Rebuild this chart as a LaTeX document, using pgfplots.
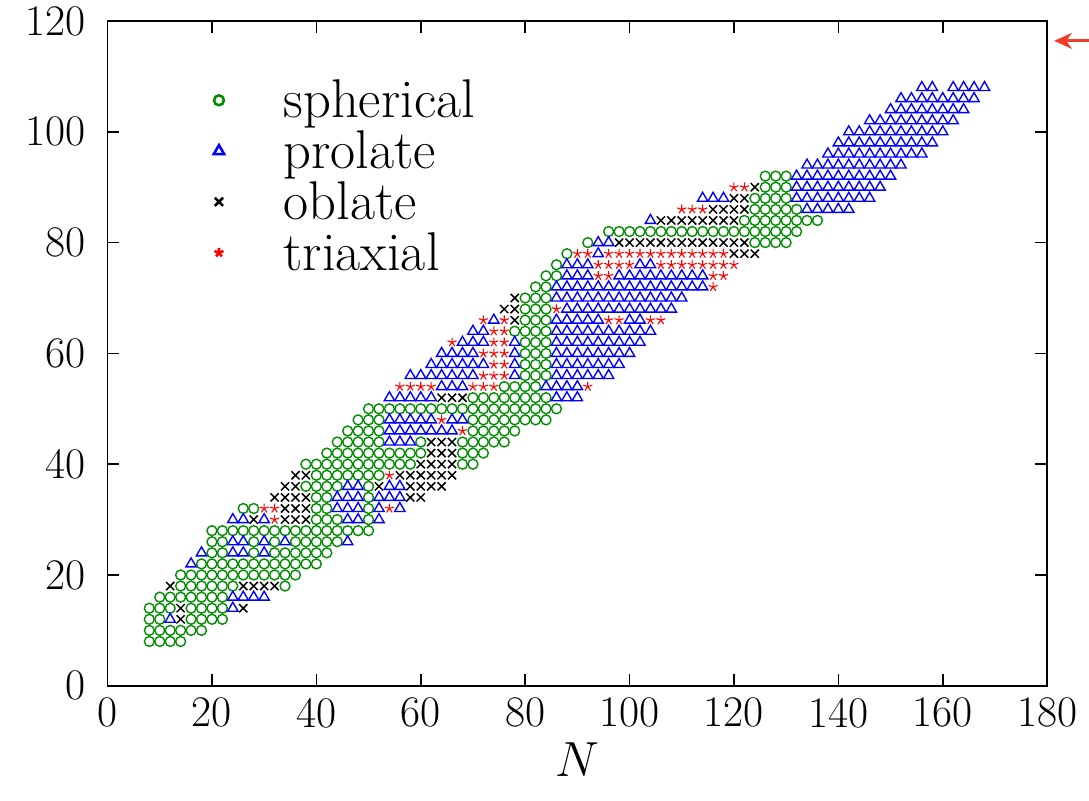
\documentclass[border=0pt]{standalone}
\usepackage{pgfplots}
\pgfplotsset{compat=1.18}
\usetikzlibrary{arrows.meta}
\definecolor{sphgreen}{RGB}{0,140,0}
\definecolor{arrowred}{RGB}{240,60,40}
\begin{document}
\begin{tikzpicture}
\begin{axis}[
  scale only axis,
  width=473.5pt, height=335pt,
  xmin=0, xmax=180, ymin=0, ymax=120,
  xtick={0,20,...,180}, ytick={0,20,...,120},
  /pgf/number format/assume math mode=true,
  tick align=inside,
  major tick length=6pt,
  axis line style={line width=0.9pt},
  every tick/.style={line width=0.8pt, black},
  tick label style={font=\fontsize{22}{26}\selectfont, inner sep=1pt},
  yticklabel style={xshift=-10pt},
  xticklabel style={yshift=-5pt},
  xlabel={$N$},
  xlabel style={font=\fontsize{25}{30}\selectfont, yshift=-3pt},
  legend style={at={(rel axis cs:0.093,0.924)}, anchor=north west, draw=none, fill=none,
    font=\fontsize{27.5}{32}\selectfont, row sep=1pt},
  legend cell align=left,
  legend image code/.code={\draw[#1,line width=1.3pt] plot coordinates {(0.3cm,0cm)};\path (0cm,0cm) (1.36cm,0cm);},
]
% spherical
\addplot[only marks, mark=o, mark size=2.5pt, sphgreen, line width=0.7pt] coordinates {
(8,8) (10,8) (12,8) (14,8)
(8,10) (10,10) (12,10) (14,10) (16,10) (18,10)
(8,12) (10,12) (16,12) (18,12) (20,12) (22,12)
(8,14) (10,14) (12,14) (16,14) (18,14) (20,14) (22,14)
(10,16) (12,16) (14,16) (16,16) (18,16) (20,16) (22,16)
(14,18) (16,18) (18,18) (20,18) (22,18) (24,18) (34,18)
(14,20) (16,20) (18,20) (20,20) (22,20) (24,20) (26,20) (28,20) (30,20) (32,20) (34,20) (36,20)
(18,22) (20,22) (22,22) (24,22) (26,22) (28,22) (30,22) (32,22) (34,22) (36,22) (38,22) (40,22)
(20,24) (22,24) (28,24) (32,24) (34,24) (36,24) (38,24) (40,24) (42,24)
(20,26) (22,26) (28,26) (32,26) (36,26) (38,26) (40,26) (42,26) (44,26)
(20,28) (22,28) (24,28) (26,28) (28,28) (30,28) (32,28) (34,28) (36,28) (38,28) (40,28) (42,28) (44,28) (46,28) (48,28) (50,28)
(40,30) (42,30) (44,30) (50,30)
(26,32) (28,32) (40,32) (42,32) (50,32)
(40,34) (42,34) (50,34)
(38,36) (40,36) (42,36) (44,36) (50,36)
(40,38) (42,38) (44,38) (46,38) (48,38) (50,38) (52,38)
(38,40) (40,40) (42,40) (44,40) (46,40) (48,40) (50,40) (52,40) (54,40) (56,40) (58,40) (68,40) (70,40)
(42,42) (44,42) (46,42) (48,42) (50,42) (52,42) (54,42) (56,42) (58,42) (60,42) (68,42) (70,42) (72,42)
(44,44) (46,44) (48,44) (50,44) (52,44) (60,44) (68,44) (70,44) (72,44) (74,44) (76,44)
(46,46) (48,46) (50,46) (52,46) (70,46) (72,46) (74,46) (76,46) (78,46)
(48,48) (50,48) (52,48) (70,48) (72,48) (74,48) (76,48) (78,48) (80,48) (82,48) (84,48)
(50,50) (52,50) (54,50) (56,50) (58,50) (60,50) (62,50) (64,50) (66,50) (68,50) (70,50) (72,50) (74,50) (76,50) (78,50) (80,50) (82,50) (84,50) (86,50)
(70,52) (72,52) (74,52) (76,52) (78,52) (80,52) (82,52) (84,52)
(76,54) (78,54) (80,54) (82,54)
(80,56) (82,56) (84,56)
(80,58) (82,58) (84,58)
(80,60) (82,60) (84,60)
(80,62) (82,62) (84,62)
(78,64) (80,64) (82,64) (84,64)
(80,66) (82,66) (84,66)
(80,68) (82,68) (84,68)
(80,70) (82,70) (84,70)
(82,72) (84,72)
(84,74) (86,74)
(86,76)
(88,78)
(92,80) (124,80) (126,80) (128,80) (130,80)
(96,82) (98,82) (100,82) (102,82) (104,82) (106,82) (108,82) (110,82) (112,82) (114,82) (116,82) (118,82) (120,82) (122,82) (124,82) (126,82) (128,82) (130,82) (132,82)
(122,84) (124,84) (126,84) (128,84) (130,84) (132,84) (134,84) (136,84)
(124,86) (126,86) (128,86) (130,86) (132,86)
(124,88) (126,88) (128,88) (130,88)
(126,90) (128,90) (130,90)
(126,92) (128,92) (130,92)
};
\addlegendentry{spherical}
% prolate
\addplot[only marks, mark=triangle, mark size=3.0pt, blue, line width=0.7pt] coordinates {
(12,12)
(24,14)
(24,16) (26,16) (28,16) (30,16)
(16,22)
(18,24) (24,24) (26,24) (30,24)
(24,26) (26,26) (30,26) (34,26) (46,26)
(24,30) (26,30) (30,30) (46,30) (48,30) (52,30)
(44,32) (46,32) (48,32) (52,32) (56,32)
(44,34) (46,34) (48,34) (52,34) (54,34) (56,34)
(46,36) (48,36) (54,36) (56,36)
(54,44) (56,44) (58,44)
(54,46) (56,46) (58,46) (60,46) (62,46) (64,46) (66,46)
(54,48) (56,48) (58,48) (60,48) (62,48) (66,48) (68,48)
(54,52) (56,52) (58,52) (60,52) (62,52) (86,52) (88,52) (90,52)
(64,54) (66,54) (68,54) (84,54) (86,54) (88,54) (90,54)
(58,56) (60,56) (62,56) (64,56) (66,56) (68,56) (70,56) (78,56) (86,56) (88,56) (90,56) (92,56) (94,56) (96,56)
(62,58) (64,58) (66,58) (68,58) (70,58) (72,58) (78,58) (86,58) (88,58) (90,58) (92,58) (94,58) (96,58) (98,58)
(64,60) (66,60) (68,60) (70,60) (78,60) (86,60) (88,60) (90,60) (92,60) (94,60) (96,60) (98,60) (100,60)
(68,62) (70,62) (72,62) (78,62) (86,62) (88,62) (90,62) (92,62) (94,62) (96,62) (98,62) (100,62) (102,62)
(70,64) (72,64) (86,64) (88,64) (90,64) (92,64) (94,64) (96,64) (98,64) (100,64) (102,64) (104,64)
(74,66) (86,66) (88,66) (90,66) (92,66) (94,66) (100,66) (102,66)
(88,68) (90,68) (92,68) (94,68) (96,68) (98,68) (100,68) (102,68) (104,68) (106,68) (108,68)
(86,70) (88,70) (90,70) (92,70) (94,70) (96,70) (98,70) (100,70) (102,70) (104,70) (106,70) (108,70) (110,70)
(86,72) (88,72) (90,72) (92,72) (94,72) (96,72) (98,72) (100,72) (102,72) (104,72) (106,72) (108,72) (110,72) (112,72) (114,72)
(88,74) (90,74) (92,74) (98,74) (100,74) (102,74) (104,74) (106,74) (108,74) (110,74) (112,74) (114,74)
(88,76) (90,76) (92,76) (102,76) (104,76)
(94,78)
(94,80) (96,80)
(104,84)
(134,86) (136,86) (138,86) (140,86) (142,86)
(114,88) (116,88) (118,88) (132,88) (134,88) (136,88) (138,88) (140,88) (142,88) (144,88) (146,88)
(132,90) (134,90) (136,90) (138,90) (140,90) (142,90) (144,90) (146,90) (148,90)
(132,92) (134,92) (136,92) (138,92) (140,92) (142,92) (144,92) (146,92) (148,92) (150,92)
(134,94) (136,94) (138,94) (140,94) (142,94) (144,94) (146,94) (148,94) (150,94) (152,94)
(138,96) (140,96) (142,96) (144,96) (146,96) (148,96) (150,96) (152,96) (154,96) (156,96)
(140,98) (142,98) (144,98) (146,98) (148,98) (150,98) (152,98) (154,98) (156,98) (158,98)
(142,100) (144,100) (146,100) (148,100) (150,100) (152,100) (154,100) (156,100) (158,100) (160,100)
(146,102) (148,102) (150,102) (152,102) (154,102) (156,102) (158,102) (160,102) (162,102)
(150,104) (152,104) (154,104) (156,104) (158,104) (160,104) (162,104) (164,104)
(152,106) (154,106) (156,106) (158,106) (160,106) (162,106) (164,106) (166,106)
(156,108) (158,108) (162,108) (164,108) (166,108) (168,108)
};
\addlegendentry{prolate}
% oblate
\addplot[only marks, mark=x, mark size=2.9pt, black, line width=0.75pt] coordinates {
(14,12)
(14,14) (26,14)
(12,18) (26,18) (28,18) (30,18) (32,18)
(28,30) (34,30) (36,30) (38,30)
(34,32) (36,32) (38,32)
(32,34) (34,34) (36,34) (38,34) (58,34) (60,34)
(34,36) (36,36) (52,36) (58,36) (60,36) (62,36) (64,36)
(36,38) (38,38) (56,38) (58,38) (60,38) (62,38) (64,38) (66,38)
(60,40) (62,40) (64,40) (66,40)
(62,42) (64,42) (66,42)
(62,44) (64,44) (66,44)
(64,52) (66,52) (68,52)
(78,66)
(76,68) (78,68)
(78,70)
(120,78) (122,78) (124,78)
(98,80) (100,80) (102,80) (104,80) (106,80) (108,80) (110,80) (112,80) (114,80) (116,80) (118,80) (120,80) (122,80)
(106,84) (108,84) (110,84) (112,84) (114,84) (116,84) (118,84) (120,84)
(116,86) (118,86) (120,86) (122,86)
(120,88) (122,88)
(124,90)
};
\addlegendentry{oblate}
% triaxial
\addplot[only marks, mark=star, mark size=2.4pt, red, line width=0.55pt] coordinates {
(32,30)
(30,32) (32,32) (54,32)
(54,38)
(68,46)
(64,48)
(56,54) (58,54) (60,54) (62,54) (70,54) (72,54) (74,54) (92,54)
(72,56) (74,56) (76,56)
(74,58) (76,58)
(72,60) (74,60) (76,60)
(66,62) (74,62) (76,62)
(74,64) (76,64)
(72,66) (76,66) (96,66) (98,66) (104,66) (106,66)
(86,68)
(116,72)
(94,74) (96,74) (116,74) (118,74)
(94,76) (96,76) (98,76) (100,76) (106,76) (108,76) (110,76) (112,76) (114,76) (116,76) (118,76) (120,76)
(90,78) (92,78) (96,78) (98,78) (100,78) (102,78) (104,78) (106,78) (108,78) (110,78) (112,78) (114,78) (116,78) (118,78)
(110,86) (112,86) (114,86)
(120,90) (122,90)
};
\addlegendentry{triaxial}
\end{axis}
\draw[arrowred, line width=1.6pt, -{Stealth[length=9pt,width=8pt]}] (494.6pt,325pt) -- (477pt,325pt);
\pgfresetboundingbox
\path (-54.2pt,-58pt) rectangle (494.6pt,345.6pt);
\end{tikzpicture}
\end{document}
